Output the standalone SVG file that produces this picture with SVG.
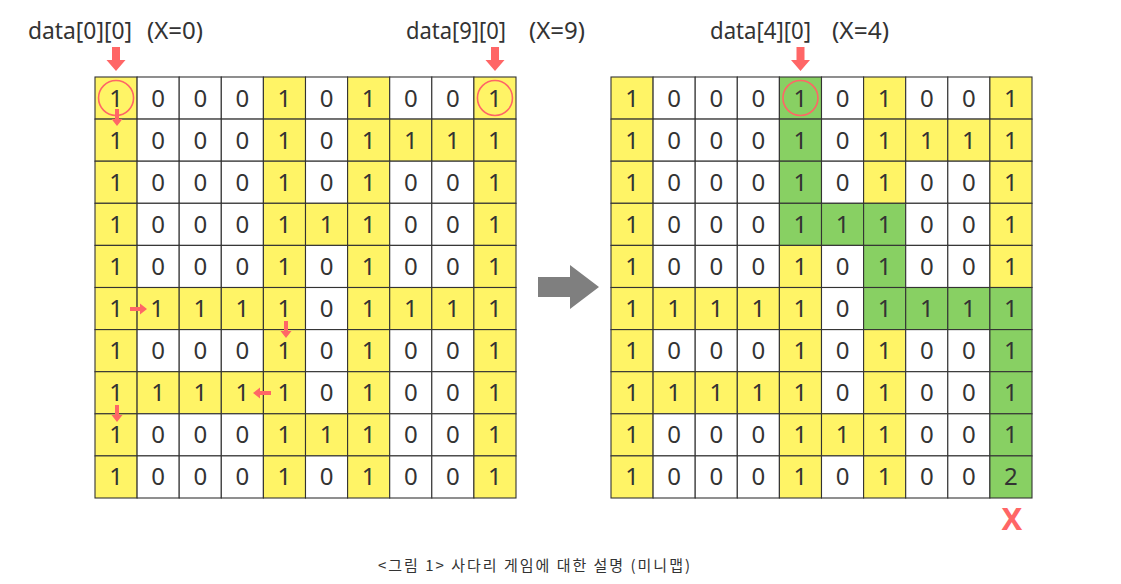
<svg xmlns="http://www.w3.org/2000/svg" width="1121" height="584" viewBox="0 0 1121 584">
<style>
.cells rect{width:42.1px;height:42.1px;stroke:#333;stroke-width:1.1}
.y{fill:#fff466}
.w{fill:#ffffff}
.g{fill:#88d063}
.cells text{font-family:"Noto Sans","DejaVu Sans",sans-serif;font-size:24px;fill:#333;text-anchor:middle}
.lbl{font-family:"Noto Sans","DejaVu Sans",sans-serif;font-size:23px;fill:#333}
.ra{fill:#ff6666}
.ring{fill:none;stroke:#ff6666;stroke-width:1.6}
</style>
<rect width="1121" height="584" fill="#ffffff"/>

<!-- labels -->
<g id="label-left-0">
<text class="lbl" x="28" y="39" textLength="104" lengthAdjust="spacingAndGlyphs">data[0][0]</text>
<text class="lbl" x="147" y="39" textLength="56" lengthAdjust="spacingAndGlyphs">(X=0)</text>
</g>
<g id="label-left-9">
<text class="lbl" x="406" y="39" textLength="100" lengthAdjust="spacingAndGlyphs">data[9][0]</text>
<text class="lbl" x="529" y="39" textLength="56" lengthAdjust="spacingAndGlyphs">(X=9)</text>
</g>
<g id="label-right-4">
<text class="lbl" x="710" y="39" textLength="101" lengthAdjust="spacingAndGlyphs">data[4][0]</text>
<text class="lbl" x="832" y="39" textLength="57" lengthAdjust="spacingAndGlyphs">(X=4)</text>
</g>

<!-- left grid -->
<g id="grid-left" class="cells">
<g id="L-r0" transform="translate(95,77)">
<rect class="y" x="0"/><rect class="w" x="42.1"/><rect class="w" x="84.2"/><rect class="w" x="126.3"/><rect class="y" x="168.4"/><rect class="w" x="210.5"/><rect class="y" x="252.6"/><rect class="w" x="294.7"/><rect class="w" x="336.8"/><rect class="y" x="378.9"/>
<text x="21.05" y="29.6">1</text><text x="63.15" y="29.6">0</text><text x="105.25" y="29.6">0</text><text x="147.35" y="29.6">0</text><text x="189.45" y="29.6">1</text><text x="231.55" y="29.6">0</text><text x="273.65" y="29.6">1</text><text x="315.75" y="29.6">0</text><text x="357.85" y="29.6">0</text><text x="399.95" y="29.6">1</text>
</g>
<g id="L-r1" transform="translate(95,119.1)">
<rect class="y" x="0"/><rect class="w" x="42.1"/><rect class="w" x="84.2"/><rect class="w" x="126.3"/><rect class="y" x="168.4"/><rect class="w" x="210.5"/><rect class="y" x="252.6"/><rect class="y" x="294.7"/><rect class="y" x="336.8"/><rect class="y" x="378.9"/>
<text x="21.05" y="29.6">1</text><text x="63.15" y="29.6">0</text><text x="105.25" y="29.6">0</text><text x="147.35" y="29.6">0</text><text x="189.45" y="29.6">1</text><text x="231.55" y="29.6">0</text><text x="273.65" y="29.6">1</text><text x="315.75" y="29.6">1</text><text x="357.85" y="29.6">1</text><text x="399.95" y="29.6">1</text>
</g>
<g id="L-r2" transform="translate(95,161.2)">
<rect class="y" x="0"/><rect class="w" x="42.1"/><rect class="w" x="84.2"/><rect class="w" x="126.3"/><rect class="y" x="168.4"/><rect class="w" x="210.5"/><rect class="y" x="252.6"/><rect class="w" x="294.7"/><rect class="w" x="336.8"/><rect class="y" x="378.9"/>
<text x="21.05" y="29.6">1</text><text x="63.15" y="29.6">0</text><text x="105.25" y="29.6">0</text><text x="147.35" y="29.6">0</text><text x="189.45" y="29.6">1</text><text x="231.55" y="29.6">0</text><text x="273.65" y="29.6">1</text><text x="315.75" y="29.6">0</text><text x="357.85" y="29.6">0</text><text x="399.95" y="29.6">1</text>
</g>
<g id="L-r3" transform="translate(95,203.3)">
<rect class="y" x="0"/><rect class="w" x="42.1"/><rect class="w" x="84.2"/><rect class="w" x="126.3"/><rect class="y" x="168.4"/><rect class="y" x="210.5"/><rect class="y" x="252.6"/><rect class="w" x="294.7"/><rect class="w" x="336.8"/><rect class="y" x="378.9"/>
<text x="21.05" y="29.6">1</text><text x="63.15" y="29.6">0</text><text x="105.25" y="29.6">0</text><text x="147.35" y="29.6">0</text><text x="189.45" y="29.6">1</text><text x="231.55" y="29.6">1</text><text x="273.65" y="29.6">1</text><text x="315.75" y="29.6">0</text><text x="357.85" y="29.6">0</text><text x="399.95" y="29.6">1</text>
</g>
<g id="L-r4" transform="translate(95,245.4)">
<rect class="y" x="0"/><rect class="w" x="42.1"/><rect class="w" x="84.2"/><rect class="w" x="126.3"/><rect class="y" x="168.4"/><rect class="w" x="210.5"/><rect class="y" x="252.6"/><rect class="w" x="294.7"/><rect class="w" x="336.8"/><rect class="y" x="378.9"/>
<text x="21.05" y="29.6">1</text><text x="63.15" y="29.6">0</text><text x="105.25" y="29.6">0</text><text x="147.35" y="29.6">0</text><text x="189.45" y="29.6">1</text><text x="231.55" y="29.6">0</text><text x="273.65" y="29.6">1</text><text x="315.75" y="29.6">0</text><text x="357.85" y="29.6">0</text><text x="399.95" y="29.6">1</text>
</g>
<g id="L-r5" transform="translate(95,287.5)">
<rect class="y" x="0"/><rect class="y" x="42.1"/><rect class="y" x="84.2"/><rect class="y" x="126.3"/><rect class="y" x="168.4"/><rect class="w" x="210.5"/><rect class="y" x="252.6"/><rect class="y" x="294.7"/><rect class="y" x="336.8"/><rect class="y" x="378.9"/>
<text x="21.05" y="29.6">1</text><text x="62" y="29.6">1</text><text x="105.25" y="29.6">1</text><text x="147.35" y="29.6">1</text><text x="189.45" y="29.6">1</text><text x="231.55" y="29.6">0</text><text x="273.65" y="29.6">1</text><text x="315.75" y="29.6">1</text><text x="357.85" y="29.6">1</text><text x="399.95" y="29.6">1</text>
</g>
<g id="L-r6" transform="translate(95,329.6)">
<rect class="y" x="0"/><rect class="w" x="42.1"/><rect class="w" x="84.2"/><rect class="w" x="126.3"/><rect class="y" x="168.4"/><rect class="w" x="210.5"/><rect class="y" x="252.6"/><rect class="w" x="294.7"/><rect class="w" x="336.8"/><rect class="y" x="378.9"/>
<text x="21.05" y="29.6">1</text><text x="63.15" y="29.6">0</text><text x="105.25" y="29.6">0</text><text x="147.35" y="29.6">0</text><text x="189.45" y="29.6">1</text><text x="231.55" y="29.6">0</text><text x="273.65" y="29.6">1</text><text x="315.75" y="29.6">0</text><text x="357.85" y="29.6">0</text><text x="399.95" y="29.6">1</text>
</g>
<g id="L-r7" transform="translate(95,371.7)">
<rect class="y" x="0"/><rect class="y" x="42.1"/><rect class="y" x="84.2"/><rect class="y" x="126.3"/><rect class="y" x="168.4"/><rect class="w" x="210.5"/><rect class="y" x="252.6"/><rect class="w" x="294.7"/><rect class="w" x="336.8"/><rect class="y" x="378.9"/>
<text x="21.05" y="29.6">1</text><text x="63.15" y="29.6">1</text><text x="105.25" y="29.6">1</text><text x="147.35" y="29.6">1</text><text x="189.45" y="29.6">1</text><text x="231.55" y="29.6">0</text><text x="273.65" y="29.6">1</text><text x="315.75" y="29.6">0</text><text x="357.85" y="29.6">0</text><text x="399.95" y="29.6">1</text>
</g>
<g id="L-r8" transform="translate(95,413.8)">
<rect class="y" x="0"/><rect class="w" x="42.1"/><rect class="w" x="84.2"/><rect class="w" x="126.3"/><rect class="y" x="168.4"/><rect class="y" x="210.5"/><rect class="y" x="252.6"/><rect class="w" x="294.7"/><rect class="w" x="336.8"/><rect class="y" x="378.9"/>
<text x="21.05" y="29.6">1</text><text x="63.15" y="29.6">0</text><text x="105.25" y="29.6">0</text><text x="147.35" y="29.6">0</text><text x="189.45" y="29.6">1</text><text x="231.55" y="29.6">1</text><text x="273.65" y="29.6">1</text><text x="315.75" y="29.6">0</text><text x="357.85" y="29.6">0</text><text x="399.95" y="29.6">1</text>
</g>
<g id="L-r9" transform="translate(95,455.9)">
<rect class="y" x="0"/><rect class="w" x="42.1"/><rect class="w" x="84.2"/><rect class="w" x="126.3"/><rect class="y" x="168.4"/><rect class="w" x="210.5"/><rect class="y" x="252.6"/><rect class="w" x="294.7"/><rect class="w" x="336.8"/><rect class="y" x="378.9"/>
<text x="21.05" y="29.6">1</text><text x="63.15" y="29.6">0</text><text x="105.25" y="29.6">0</text><text x="147.35" y="29.6">0</text><text x="189.45" y="29.6">1</text><text x="231.55" y="29.6">0</text><text x="273.65" y="29.6">1</text><text x="315.75" y="29.6">0</text><text x="357.85" y="29.6">0</text><text x="399.95" y="29.6">1</text>
</g>
</g>

<!-- right grid -->
<g id="grid-right" class="cells">
<g id="R-r0" transform="translate(611,77)">
<rect class="y" x="0"/><rect class="w" x="42.1"/><rect class="w" x="84.2"/><rect class="w" x="126.3"/><rect class="g" x="168.4"/><rect class="w" x="210.5"/><rect class="y" x="252.6"/><rect class="w" x="294.7"/><rect class="w" x="336.8"/><rect class="y" x="378.9"/>
<text x="21.05" y="29.6">1</text><text x="63.15" y="29.6">0</text><text x="105.25" y="29.6">0</text><text x="147.35" y="29.6">0</text><text x="189.45" y="29.6">1</text><text x="231.55" y="29.6">0</text><text x="273.65" y="29.6">1</text><text x="315.75" y="29.6">0</text><text x="357.85" y="29.6">0</text><text x="399.95" y="29.6">1</text>
</g>
<g id="R-r1" transform="translate(611,119.1)">
<rect class="y" x="0"/><rect class="w" x="42.1"/><rect class="w" x="84.2"/><rect class="w" x="126.3"/><rect class="g" x="168.4"/><rect class="w" x="210.5"/><rect class="y" x="252.6"/><rect class="y" x="294.7"/><rect class="y" x="336.8"/><rect class="y" x="378.9"/>
<text x="21.05" y="29.6">1</text><text x="63.15" y="29.6">0</text><text x="105.25" y="29.6">0</text><text x="147.35" y="29.6">0</text><text x="189.45" y="29.6">1</text><text x="231.55" y="29.6">0</text><text x="273.65" y="29.6">1</text><text x="315.75" y="29.6">1</text><text x="357.85" y="29.6">1</text><text x="399.95" y="29.6">1</text>
</g>
<g id="R-r2" transform="translate(611,161.2)">
<rect class="y" x="0"/><rect class="w" x="42.1"/><rect class="w" x="84.2"/><rect class="w" x="126.3"/><rect class="g" x="168.4"/><rect class="w" x="210.5"/><rect class="y" x="252.6"/><rect class="w" x="294.7"/><rect class="w" x="336.8"/><rect class="y" x="378.9"/>
<text x="21.05" y="29.6">1</text><text x="63.15" y="29.6">0</text><text x="105.25" y="29.6">0</text><text x="147.35" y="29.6">0</text><text x="189.45" y="29.6">1</text><text x="231.55" y="29.6">0</text><text x="273.65" y="29.6">1</text><text x="315.75" y="29.6">0</text><text x="357.85" y="29.6">0</text><text x="399.95" y="29.6">1</text>
</g>
<g id="R-r3" transform="translate(611,203.3)">
<rect class="y" x="0"/><rect class="w" x="42.1"/><rect class="w" x="84.2"/><rect class="w" x="126.3"/><rect class="g" x="168.4"/><rect class="g" x="210.5"/><rect class="g" x="252.6"/><rect class="w" x="294.7"/><rect class="w" x="336.8"/><rect class="y" x="378.9"/>
<text x="21.05" y="29.6">1</text><text x="63.15" y="29.6">0</text><text x="105.25" y="29.6">0</text><text x="147.35" y="29.6">0</text><text x="189.45" y="29.6">1</text><text x="231.55" y="29.6">1</text><text x="273.65" y="29.6">1</text><text x="315.75" y="29.6">0</text><text x="357.85" y="29.6">0</text><text x="399.95" y="29.6">1</text>
</g>
<g id="R-r4" transform="translate(611,245.4)">
<rect class="y" x="0"/><rect class="w" x="42.1"/><rect class="w" x="84.2"/><rect class="w" x="126.3"/><rect class="y" x="168.4"/><rect class="w" x="210.5"/><rect class="g" x="252.6"/><rect class="w" x="294.7"/><rect class="w" x="336.8"/><rect class="y" x="378.9"/>
<text x="21.05" y="29.6">1</text><text x="63.15" y="29.6">0</text><text x="105.25" y="29.6">0</text><text x="147.35" y="29.6">0</text><text x="189.45" y="29.6">1</text><text x="231.55" y="29.6">0</text><text x="273.65" y="29.6">1</text><text x="315.75" y="29.6">0</text><text x="357.85" y="29.6">0</text><text x="399.95" y="29.6">1</text>
</g>
<g id="R-r5" transform="translate(611,287.5)">
<rect class="y" x="0"/><rect class="y" x="42.1"/><rect class="y" x="84.2"/><rect class="y" x="126.3"/><rect class="y" x="168.4"/><rect class="w" x="210.5"/><rect class="g" x="252.6"/><rect class="g" x="294.7"/><rect class="g" x="336.8"/><rect class="g" x="378.9"/>
<text x="21.05" y="29.6">1</text><text x="63.15" y="29.6">1</text><text x="105.25" y="29.6">1</text><text x="147.35" y="29.6">1</text><text x="189.45" y="29.6">1</text><text x="231.55" y="29.6">0</text><text x="273.65" y="29.6">1</text><text x="315.75" y="29.6">1</text><text x="357.85" y="29.6">1</text><text x="399.95" y="29.6">1</text>
</g>
<g id="R-r6" transform="translate(611,329.6)">
<rect class="y" x="0"/><rect class="w" x="42.1"/><rect class="w" x="84.2"/><rect class="w" x="126.3"/><rect class="y" x="168.4"/><rect class="w" x="210.5"/><rect class="y" x="252.6"/><rect class="w" x="294.7"/><rect class="w" x="336.8"/><rect class="g" x="378.9"/>
<text x="21.05" y="29.6">1</text><text x="63.15" y="29.6">0</text><text x="105.25" y="29.6">0</text><text x="147.35" y="29.6">0</text><text x="189.45" y="29.6">1</text><text x="231.55" y="29.6">0</text><text x="273.65" y="29.6">1</text><text x="315.75" y="29.6">0</text><text x="357.85" y="29.6">0</text><text x="399.95" y="29.6">1</text>
</g>
<g id="R-r7" transform="translate(611,371.7)">
<rect class="y" x="0"/><rect class="y" x="42.1"/><rect class="y" x="84.2"/><rect class="y" x="126.3"/><rect class="y" x="168.4"/><rect class="w" x="210.5"/><rect class="y" x="252.6"/><rect class="w" x="294.7"/><rect class="w" x="336.8"/><rect class="g" x="378.9"/>
<text x="21.05" y="29.6">1</text><text x="63.15" y="29.6">1</text><text x="105.25" y="29.6">1</text><text x="147.35" y="29.6">1</text><text x="189.45" y="29.6">1</text><text x="231.55" y="29.6">0</text><text x="273.65" y="29.6">1</text><text x="315.75" y="29.6">0</text><text x="357.85" y="29.6">0</text><text x="399.95" y="29.6">1</text>
</g>
<g id="R-r8" transform="translate(611,413.8)">
<rect class="y" x="0"/><rect class="w" x="42.1"/><rect class="w" x="84.2"/><rect class="w" x="126.3"/><rect class="y" x="168.4"/><rect class="y" x="210.5"/><rect class="y" x="252.6"/><rect class="w" x="294.7"/><rect class="w" x="336.8"/><rect class="g" x="378.9"/>
<text x="21.05" y="29.6">1</text><text x="63.15" y="29.6">0</text><text x="105.25" y="29.6">0</text><text x="147.35" y="29.6">0</text><text x="189.45" y="29.6">1</text><text x="231.55" y="29.6">1</text><text x="273.65" y="29.6">1</text><text x="315.75" y="29.6">0</text><text x="357.85" y="29.6">0</text><text x="399.95" y="29.6">1</text>
</g>
<g id="R-r9" transform="translate(611,455.9)">
<rect class="y" x="0"/><rect class="w" x="42.1"/><rect class="w" x="84.2"/><rect class="w" x="126.3"/><rect class="y" x="168.4"/><rect class="w" x="210.5"/><rect class="y" x="252.6"/><rect class="w" x="294.7"/><rect class="w" x="336.8"/><rect class="g" x="378.9"/>
<text x="21.05" y="29.6">1</text><text x="63.15" y="29.6">0</text><text x="105.25" y="29.6">0</text><text x="147.35" y="29.6">0</text><text x="189.45" y="29.6">1</text><text x="231.55" y="29.6">0</text><text x="273.65" y="29.6">1</text><text x="315.75" y="29.6">0</text><text x="357.85" y="29.6">0</text><text x="399.95" y="29.6">2</text>
</g>
</g>

<!-- circles -->
<g id="markers">
<circle class="ring" cx="116.05" cy="98.05" r="17.5"/>
<circle class="ring" cx="494.95" cy="98.05" r="17.5"/>
<circle class="ring" cx="800.45" cy="98.05" r="17.5"/>
</g>

<!-- connectors / arrows -->
<g id="connectors">
<path class="ra" d="M112,47 h8 v13 h5.5 l-9.5,11 l-9.5,-11 h5.5 z"/>
<path class="ra" d="M491,47 h8 v13 h5.5 l-9.5,11 l-9.5,-11 h5.5 z"/>
<path class="ra" d="M796.5,47 h8 v13 h5.5 l-9.5,11 l-9.5,-11 h5.5 z"/>
<path class="ra" d="M115,109 h4 v10 h3.5 l-5.5,7 l-5.5,-7 h3.5 z"/>
<path class="ra" d="M130,307 h10 v-3.5 l7,5.5 l-7,5.5 v-3.5 h-10 z"/>
<path class="ra" d="M284,321 h4 v10 h3.5 l-5.5,7 l-5.5,-7 h3.5 z"/>
<path class="ra" d="M271,391 h-11 v-3.5 l-7,5.5 l7,5.5 v-3.5 h11 z"/>
<path class="ra" d="M115,405 h4 v10 h3.5 l-5.5,7 l-5.5,-7 h3.5 z"/>
<path fill="#7f7f7f" d="M538,277 h32 v-12 l29,22 l-29,22 v-12 h-32 z"/>
</g>

<g id="x-mark">
<text x="1012" y="530" font-family="'Noto Sans','DejaVu Sans',sans-serif" font-size="31" font-weight="bold" fill="#ff6666" text-anchor="middle">X</text>
</g>

<g id="caption">
<text x="378" y="571" font-family="'Noto Sans CJK KR','Noto Sans',sans-serif" font-size="15" fill="#333" textLength="312" lengthAdjust="spacing">&lt;그림 1&gt; 사다리 게임에 대한 설명 (미니맵)</text>
</g>
</svg>
